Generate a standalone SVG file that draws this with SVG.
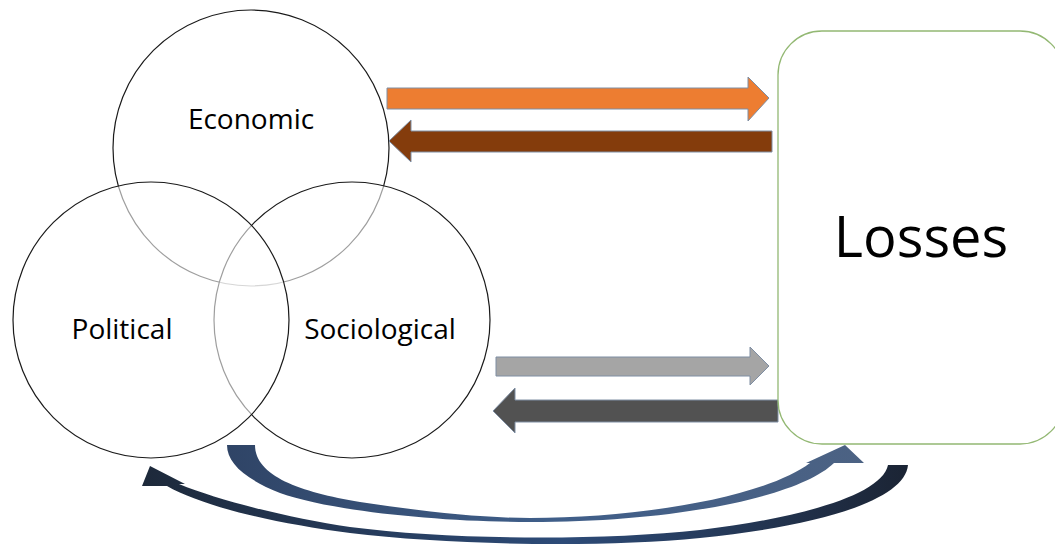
<svg xmlns="http://www.w3.org/2000/svg" width="1055" height="545" viewBox="0 0 1055 545">
  <style>
    .ring { fill: #ffffff; fill-opacity: 0.58; stroke: #1a1a1a; stroke-width: 1.2; }
    .label { font-family: "Open Sans", "Noto Sans", "Liberation Sans", sans-serif; fill: #000000; text-anchor: middle; }
    .block { stroke: #7f8ea3; stroke-width: 1; }
  </style>
  <defs>
    <linearGradient id="sweepOut" gradientUnits="userSpaceOnUse" x1="227" y1="0" x2="865" y2="0">
      <stop offset="0" stop-color="#2f4466"/>
      <stop offset="0.5" stop-color="#3f5e89"/>
      <stop offset="1" stop-color="#4c6283"/>
    </linearGradient>
    <linearGradient id="sweepBack" gradientUnits="userSpaceOnUse" x1="908" y1="0" x2="142" y2="0">
      <stop offset="0" stop-color="#1b2434"/>
      <stop offset="0.45" stop-color="#2d4b78"/>
      <stop offset="1" stop-color="#1d293a"/>
    </linearGradient>
  </defs>

  <!-- overlapping domains -->
  <g id="economic">
    <circle class="ring" cx="251" cy="148" r="138"/>
  </g>
  <g id="sociological">
    <circle class="ring" cx="352" cy="320" r="138"/>
  </g>
  <g id="political">
    <circle class="ring" cx="151" cy="320" r="138"/>
  </g>

  <!-- connectors -->
  <g id="connectors">
    <!-- Economic -> Losses -->
    <polygon class="block" fill="#ed7d31" points="387,88 748,88 748,77 769,98 748,121 748,109 387,109"/>
    <!-- Losses -> Economic -->
    <polygon class="block" fill="#843c0c" points="772,131 411,131 411,120 389,141 411,162 411,152 772,152"/>
    <!-- Sociological -> Losses -->
    <polygon class="block" fill="#a5a5a5" points="496,357 750,357 750,347 769,366 750,385 750,376 496,376"/>
    <!-- Losses -> Sociological -->
    <polygon class="block" fill="#525252" points="778,400 515,400 515,388 493,411 515,433 515,422 778,422"/>
    <!-- lower sweep towards Losses -->
    <path fill="url(#sweepOut)" d="M227,445 L255,445 C255,476 300,492 360,502 C420,511 480,518 530,518 C640,518 765,497 810,463 L806,463 L845,445 L864,463 L834,463 C800,496 680,522 530,522 C440,522 330,511 280,493 C245,479 227,463 227,445 Z"/>
    <!-- lower sweep back to Political -->
    <path fill="url(#sweepBack)" d="M908,465 C905,500 820,526 700,538 C600,548 450,545 350,533 C270,523 200,505 167,486 L142,486 L150,466 L185,484 L179,484 C220,501 290,518 350,527 C450,540 600,541 700,530 C800,518 882,495 888,465 Z"/>
  </g>

  <g id="losses">
    <rect x="778" y="31" width="286" height="413" rx="44" ry="44" fill="#ffffff" stroke="#93b873" stroke-width="1.3"/>
    <text class="label" x="921" y="257" font-size="56">Losses</text>
  </g>

  <!-- domain labels -->
  <text class="label" x="251" y="129" font-size="28">Economic</text>
  <text class="label" x="122" y="339" font-size="28">Political</text>
  <text class="label" x="380" y="339" font-size="28">Sociological</text>
</svg>
